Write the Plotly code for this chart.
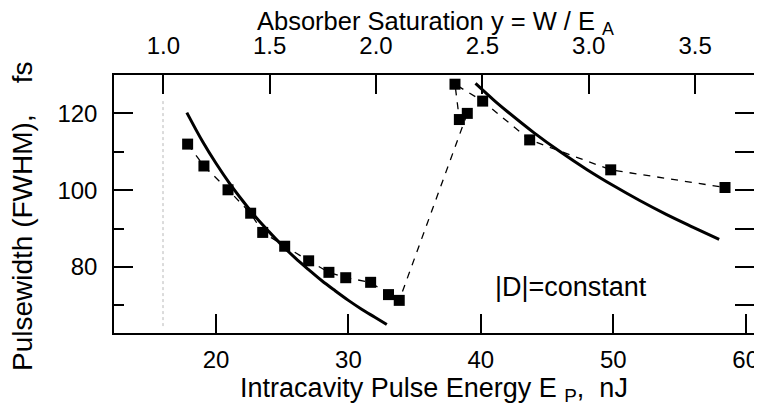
import plotly.graph_objects as go

# Measured pulse widths (squares, connected by dashed line, in measurement order)
energy_nJ = [17.86, 19.09, 20.91, 22.62, 23.53, 25.19, 27.0, 28.53, 29.80, 31.68,
             33.03, 33.84, 38.98, 38.38, 38.05, 40.14, 43.69, 49.81, 58.44]
pulsewidth_fs = [112.0, 106.3, 100.1, 94.0, 89.0, 85.4, 81.6, 78.6, 77.2, 76.0,
                 72.8, 71.3, 120.0, 118.4, 127.6, 123.2, 113.1, 105.3, 100.7]

# Solid theory curves
curve1_E = [17.8, 19, 20, 21, 22, 23, 24, 25, 26, 27, 28, 29, 30, 31, 32, 32.9]
curve1_tau = [120.2, 112.6, 107.0, 101.9, 97.3, 93.0, 89.2, 85.6, 82.3, 79.3,
              76.4, 73.8, 71.3, 69.0, 66.9, 65.0]
curve2_E = [39.6, 41, 42, 44, 46, 48, 50, 52, 54, 56, 58]
curve2_tau = [127.8, 123.4, 120.5, 115.0, 110.0, 105.4, 101.2, 97.3, 93.7, 90.4, 87.2]

# Dotted marker line at E_A (y = 1)
ea_line_E = [16.0, 16.0]
ea_line_tau = [64.6, 124.0]

# Axes ticks
bottom_ticks = [20, 30, 40, 50, 60]
top_ticks = [1.0, 1.5, 2.0, 2.5, 3.0, 3.5]
top_ticktext = ["1.0", "1.5", "2.0", "2.5", "3.0", "3.5"]
left_ticks = [80, 100, 120]
right_ticks = [70, 80, 90, 100, 110, 120]

FONT = "Liberation Sans, Arial, Helvetica, sans-serif"
FS = 24      # tick labels
FT = 27      # titles
NB = "\u00a0"

fig = go.Figure()
fig.add_trace(go.Scatter(x=ea_line_E, y=ea_line_tau, mode="lines",
                         line=dict(color="#b8b8b8", width=1, dash="dot"),
                         showlegend=False, hoverinfo="skip"))
fig.add_trace(go.Scatter(x=energy_nJ, y=pulsewidth_fs, mode="lines+markers",
                         line=dict(color="black", width=1.3, dash="7px,7px"),
                         marker=dict(symbol="square", size=11, color="black"),
                         showlegend=False))
fig.add_trace(go.Scatter(x=curve1_E, y=curve1_tau, mode="lines",
                         line=dict(color="black", width=3, shape="spline"),
                         showlegend=False))
fig.add_trace(go.Scatter(x=curve2_E, y=curve2_tau, mode="lines",
                         line=dict(color="black", width=3, shape="spline"),
                         showlegend=False))
# helper trace for the secondary axes
fig.add_trace(go.Scatter(x=[None], y=[None], xaxis="x2", yaxis="y2",
                         mode="markers", showlegend=False, hoverinfo="skip"))

axis_common = dict(showgrid=False, zeroline=False, showline=True,
                   linecolor="black", linewidth=1.5, ticks="inside",
                   tickcolor="black", tickwidth=1.5, automargin=False,
                   tickfont=dict(family=FONT, size=FS, color="black"))

# page body has an 8px margin, so the figure is sized to fit inside it
fig.update_layout(
    width=754, height=402,
    margin=dict(l=106, r=8, t=67, b=77),
    paper_bgcolor="white", plot_bgcolor="white",
    font=dict(family=FONT, size=FS, color="black"),
    xaxis=dict(range=[12.3, 60.63], tickvals=bottom_ticks, ticklen=19,
               ticklabelstandoff=4,
               title=dict(text="Intracavity Pulse Energy E <sub>P</sub>," + NB + NB + "nJ",
                          font=dict(family=FONT, size=FT), standoff=3),
               **axis_common),
    xaxis2=dict(range=[0.768, 3.777], overlaying="x", side="top",
                tickvals=top_ticks, ticktext=top_ticktext, ticklen=19,
                ticklabelstandoff=10,
                **axis_common),
    yaxis=dict(range=[62.8, 130], tickvals=left_ticks, ticklen=19,
               ticklabelstandoff=10,
               minor=dict(tickvals=[70, 90, 110], ticklen=10, ticks="inside",
                          tickcolor="black", tickwidth=1.5),
               **axis_common),
    yaxis2=dict(range=[62.8, 130], overlaying="y", side="right",
                tickvals=right_ticks, ticklen=19, showticklabels=False,
                **axis_common),
    annotations=[
        dict(x=46.81, y=74.9, xref="x", yref="y", text="|D|=constant",
             showarrow=False, font=dict(family=FONT, size=FT, color="black")),
        dict(x=0.503, y=1, xref="paper", yref="paper", xanchor="center",
             yanchor="bottom", yshift=34, showarrow=False,
             text="Absorber Saturation y = W / E <sub>A</sub>",
             font=dict(family=FONT, size=25.5, color="black")),
        dict(x=0, y=0.5, xref="paper", yref="paper", xanchor="center",
             yanchor="middle", xshift=-91.5, yshift=-12.5, textangle=-90,
             showarrow=False,
             text="Pulsewidth (FWHM)," + NB * 4 + "fs",
             font=dict(family=FONT, size=28, color="black")),
    ],
)

fig.write_html("out.html")
